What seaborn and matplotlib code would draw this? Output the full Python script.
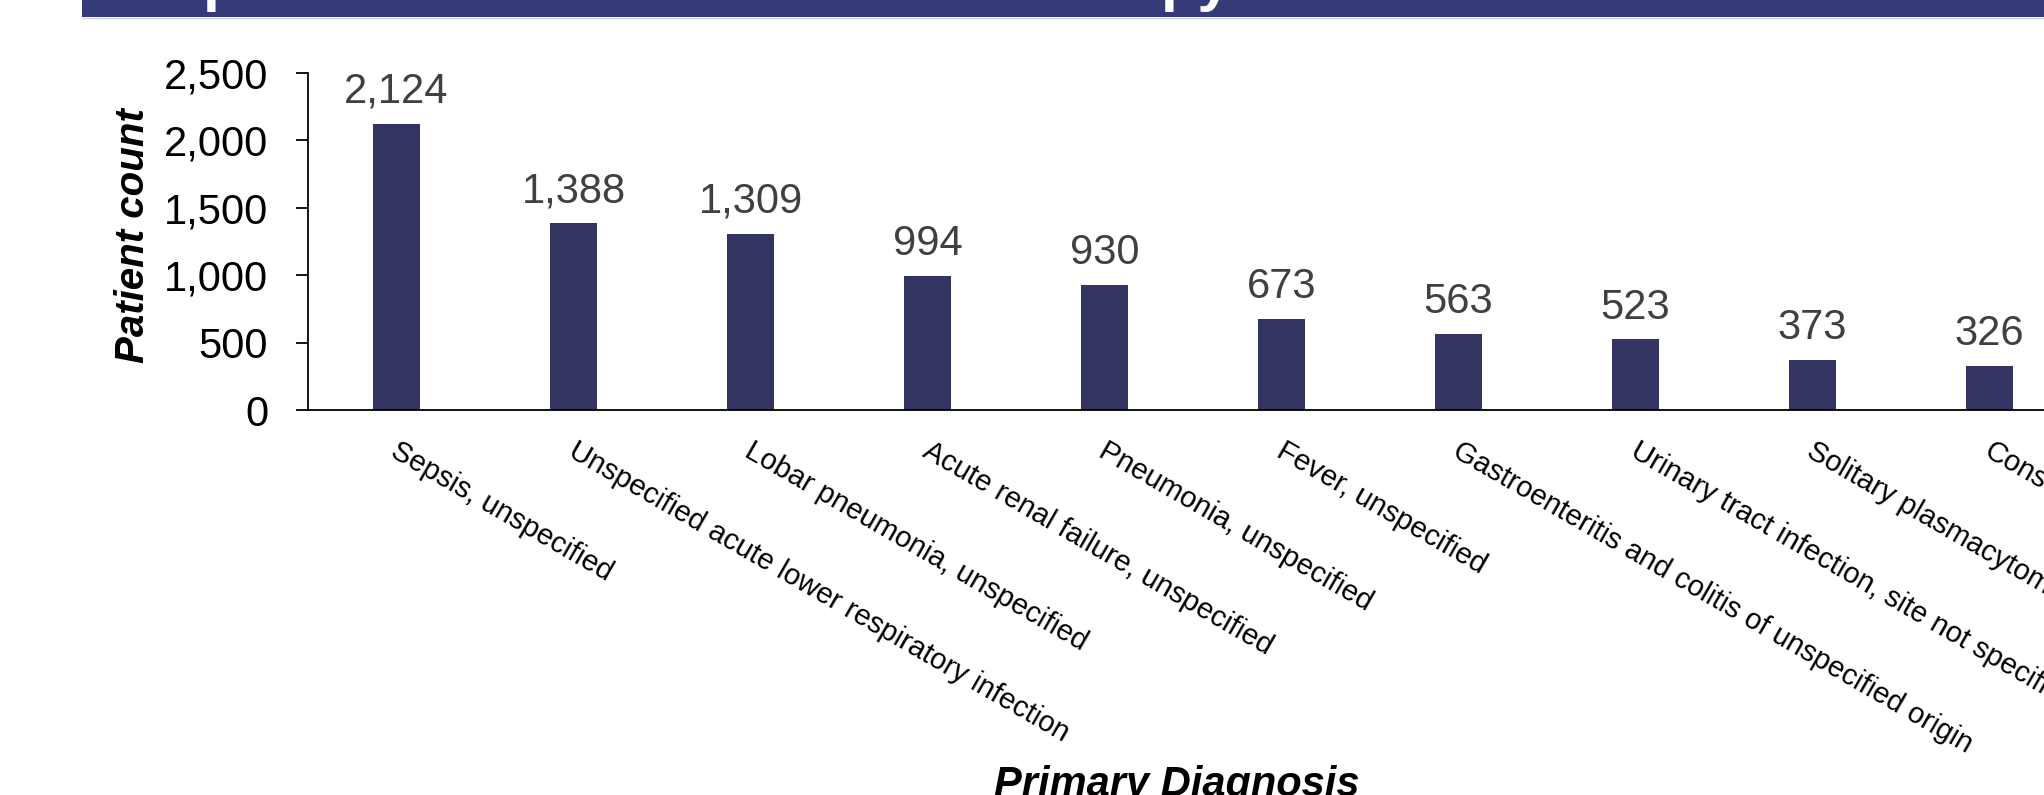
import matplotlib
matplotlib.use("Agg")
import matplotlib.pyplot as plt
from matplotlib.patches import Rectangle
from matplotlib.lines import Line2D
from matplotlib.ticker import StrMethodFormatter, FixedLocator
from matplotlib.transforms import ScaledTranslation
import pandas as pd
import seaborn as sns

# Primary diagnoses and their patient counts
diagnoses = [
    "Sepsis, unspecified",
    "Unspecified acute lower respiratory infection",
    "Lobar pneumonia, unspecified",
    "Acute renal failure, unspecified",
    "Pneumonia, unspecified",
    "Fever, unspecified",
    "Gastroenteritis and colitis of unspecified origin",
    "Urinary tract infection, site not specified",
    "Solitary plasmacytoma",
    "Constipation",
]
patient_counts = [2124, 1388, 1309, 994, 930, 673, 563, 523, 373, 326]
y_ticks = [0, 500, 1000, 1500, 2000, 2500]

BAR_COLOR = "#333462"
BANNER_COLOR = "#363B78"
VALUE_COLOR = "#404040"

sns.set_style("white")
plt.rcParams["font.family"] = ["Liberation Sans", "DejaVu Sans"]

W, H = 2044, 795
fig = plt.figure(figsize=(W / 100, H / 100), dpi=100)

# axes placed in pixel terms; the plot area runs past the right edge
ax_left, ax_right, ax_top, ax_bottom = 308, 2078, 73, 410
ax = fig.add_axes([ax_left / W, 1 - ax_bottom / H,
                   (ax_right - ax_left) / W, (ax_bottom - ax_top) / H])

df = pd.DataFrame({"diagnosis": diagnoses, "count": patient_counts})
sns.barplot(data=df, x="diagnosis", y="count", color=BAR_COLOR,
            width=0.27, linewidth=0, saturation=1, ax=ax)

ax.set_ylim(y_ticks[0], y_ticks[-1])
ax.set_xlim(-0.5, len(diagnoses) - 0.5)
ax.yaxis.set_major_locator(FixedLocator(y_ticks))
ax.yaxis.set_major_formatter(StrMethodFormatter("{x:,.0f}"))

for side in ("top", "right"):
    ax.spines[side].set_visible(False)
for side in ("left", "bottom"):
    ax.spines[side].set_color("black")
    ax.spines[side].set_linewidth(1.3)

ax.tick_params(axis="y", which="major", direction="out", length=8.6,
               width=1.3, color="black", pad=20, labelsize=30,
               labelcolor="black", left=True)
ax.tick_params(axis="x", length=0, pad=19)

ax.set_xticks(range(len(diagnoses)))
ax.set_xticklabels(diagnoses, rotation=-30, ha="left", va="top",
                   rotation_mode="anchor", fontsize=21, color="black")
nudge = ScaledTranslation(0.04, 0, fig.dpi_scale_trans)
for lbl in ax.get_xticklabels():
    lbl.set_transform(lbl.get_transform() + nudge)

# value labels above the bars
for i, v in enumerate(patient_counts):
    ax.annotate(f"{v:,}", xy=(i, v), xytext=(0, 15),
                textcoords="offset points", ha="center", va="baseline",
                fontsize=30, color=VALUE_COLOR)

ax.set_xlabel("")
ax.set_ylabel("Patient count", fontsize=29, fontweight="bold",
              fontstyle="italic", color="black")
ax.yaxis.set_label_coords((152 - ax_left) / (ax_right - ax_left),
                          (ax_bottom - 236) / (ax_bottom - ax_top))

fig.text(1177 / W, -1 / H, "Primary Diagnosis", ha="center", va="baseline",
         fontsize=30, fontweight="bold", fontstyle="italic", color="black")

# heading banner across the top
fig.patches.append(Rectangle((82 / W, 1 - 17 / H), 1 - 82 / W, 17 / H,
                             transform=fig.transFigure, facecolor=BANNER_COLOR,
                             edgecolor="none", zorder=0))
fig.lines.append(Line2D([82 / W, 1], [1 - 17.5 / H, 1 - 17.5 / H],
                        transform=fig.transFigure, color="#c9cbe0",
                        linewidth=0.8))
for x0, frag in ((203, "p"), (1161, "py")):
    fig.text(x0 / W, 1 + 1 / H, frag, ha="left", va="baseline",
             fontsize=44, fontweight="bold", color="white")

fig.savefig("out.png", dpi=100)
